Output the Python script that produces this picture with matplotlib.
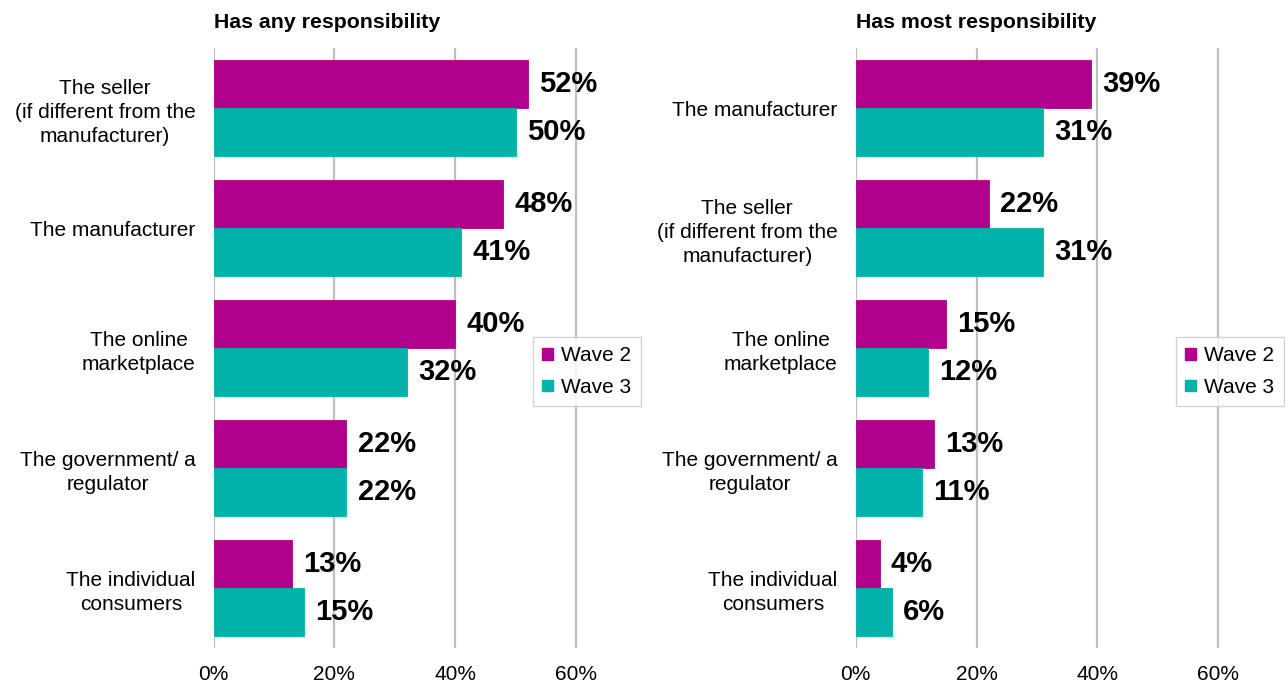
import matplotlib
matplotlib.use("Agg")
import matplotlib.pyplot as plt
from matplotlib.patches import Patch
from matplotlib.ticker import PercentFormatter

plt.rcParams['font.family'] = ['Liberation Sans', 'DejaVu Sans']

# Left panel: "Has any responsibility"
any_categories = [
    "The seller\n(if different from the\nmanufacturer)",
    "The manufacturer",
    "The online\nmarketplace",
    "The government/ a\nregulator",
    "The individual\nconsumers",
]
any_wave2 = [52, 48, 40, 22, 13]
any_wave3 = [50, 41, 32, 22, 15]

# Right panel: "Has most responsibility"
most_categories = [
    "The manufacturer",
    "The seller\n(if different from the\nmanufacturer)",
    "The online\nmarketplace",
    "The government/ a\nregulator",
    "The individual\nconsumers",
]
most_wave2 = [39, 22, 15, 13, 4]
most_wave3 = [31, 31, 12, 11, 6]

series_names = ["Wave 2", "Wave 3"]
x_ticks = [0, 20, 40, 60]

COL_W2 = "#B0008C"
COL_W3 = "#00B2A9"
GRID = "#BFBFBF"

W, H = 1285, 686
fig = plt.figure(figsize=(W / 100, H / 100), dpi=100)


def panel(left_px, title, categories, w2, w3, legend_left_px):
    ax = fig.add_axes([left_px / W, (H - 648) / H, 364.3 / W, 600 / H])
    n = len(categories)
    pos = list(range(n))
    bh = 0.4
    b2 = ax.barh([p - bh / 2 for p in pos], w2, height=bh, color=COL_W2,
                 zorder=3, edgecolor=COL_W2, linewidth=0.6)
    b3 = ax.barh([p + bh / 2 for p in pos], w3, height=bh, color=COL_W3,
                 zorder=3, edgecolor=COL_W3, linewidth=0.6)
    for bars, vals in ((b2, w2), (b3, w3)):
        for bar, v in zip(bars, vals):
            ax.annotate(f"{v}%", (bar.get_width(), bar.get_y() + bar.get_height() / 2),
                        xytext=(8, 0), textcoords="offset points",
                        ha="left", va="center", fontsize=21, fontweight="bold",
                        color="black", zorder=4)
    ax.set_ylim(n - 0.5, -0.5)
    ax.set_xlim(0, 60.3)
    ax.set_xticks(x_ticks)
    ax.xaxis.set_major_formatter(PercentFormatter(decimals=0))
    ax.set_yticks(pos)
    ax.set_yticklabels(categories)
    for t in ax.get_yticklabels():
        t.set_multialignment("center")
        t.set_linespacing(1.35)
    ax.tick_params(axis="both", length=0, labelsize=15, colors="black")
    ax.tick_params(axis="y", pad=13)
    ax.tick_params(axis="x", pad=12)
    for s in ax.spines.values():
        s.set_visible(False)
    ax.grid(axis="x", color=GRID, linewidth=1.6, zorder=0)
    ax.set_axisbelow(True)
    fig.text(left_px / W, (H - 22) / H, title, fontsize=15.3, fontweight="bold",
             ha="left", va="center")
    handles = [Patch(facecolor=COL_W2, edgecolor=COL_W2),
               Patch(facecolor=COL_W3, edgecolor=COL_W3)]
    leg = fig.legend(handles, series_names, loc="upper left",
                     bbox_to_anchor=(legend_left_px / W, (H - 337) / H),
                     borderaxespad=0, fontsize=15, frameon=True, fancybox=False,
                     handlelength=0.5, handleheight=0.5, handletextpad=0.4,
                     labelspacing=0.6, borderpad=0.45)
    leg.get_frame().set_edgecolor("#C8C8C8")
    leg.get_frame().set_linewidth(1.0)
    return ax


panel(213.5, "Has any responsibility", any_categories, any_wave2, any_wave3, 533)
panel(855.7, "Has most responsibility", most_categories, most_wave2, most_wave3, 1176)

fig.savefig("out.png", dpi=100, facecolor="white")
